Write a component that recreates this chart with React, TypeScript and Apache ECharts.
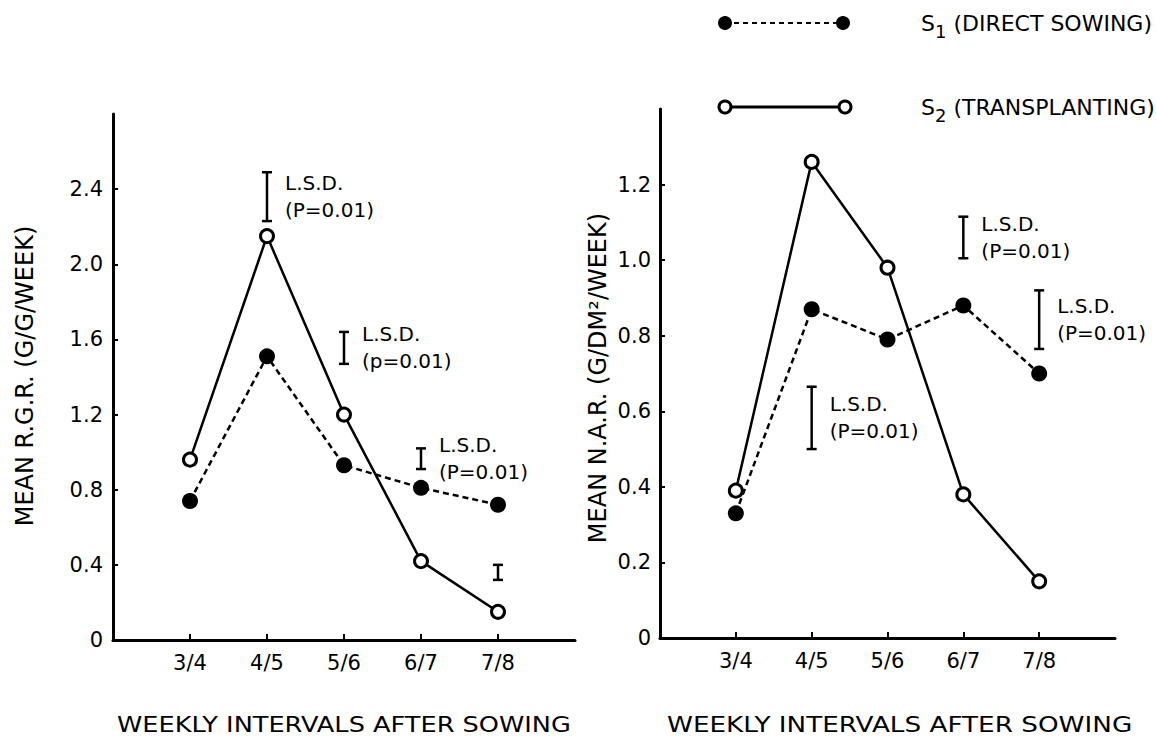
import React, { useEffect, useRef } from "react";
import * as echarts from "echarts";

const FONT = "DejaVu Sans";

// categories (padded with empty slots at both ends of the axis)
const intervals = ["3/4", "4/5", "5/6", "6/7", "7/8"];
const xCategories = ["", ...intervals, ""];

// Mean R.G.R. (g/g/week)
const rgrDirect = [0.74, 1.51, 0.93, 0.81, 0.72];
const rgrTransplant = [0.96, 2.15, 1.2, 0.42, 0.15];

// Mean N.A.R. (g/dm2/week)
const narDirect = [0.33, 0.87, 0.79, 0.88, 0.7];
const narTransplant = [0.39, 1.26, 0.98, 0.38, 0.15];

// L.S.D. bars (P=0.01)
const rgrLsdAt = ["4/5", "5/6", "6/7", "7/8"];
const rgrLsdLow = [2.23, 1.47, 0.91, 0.32];
const rgrLsdHigh = [2.49, 1.64, 1.02, 0.4];
const rgrLsdLabels = ["L.S.D.\n(P=0.01)", "L.S.D.\n(p=0.01)", "L.S.D.\n(P=0.01)", ""];

const narLsdAt = ["4/5", "6/7", "7/8"];
const narLsdLow = [0.5, 1.005, 0.765];
const narLsdHigh = [0.665, 1.115, 0.92];
const narLsdLabels = ["L.S.D.\n(P=0.01)", "L.S.D.\n(P=0.01)", "L.S.D.\n(P=0.01)"];

// axis extents
const rgrMax = 2.8;
const rgrStep = 0.4;
const narMax = 1.4;
const narStep = 0.2;

const seriesNames = ["S1 (DIRECT SOWING)", "S2 (TRANSPLANTING)"];
const xTitle = "WEEKLY INTERVALS AFTER SOWING";
const rgrTitle = "MEAN R.G.R. (G/G/WEEK)";
const narTitle = "MEAN N.A.R. (G/DM\u00B2/WEEK)";

const pad = (arr: number[]) => [null, ...arr, null];

function lsdRender(labels: string[]) {
  return (params: any, api: any) => {
    const p1 = api.coord([api.value(0), api.value(1)]);
    const p2 = api.coord([api.value(0), api.value(2)]);
    const x = p1[0];
    const s = { stroke: "#000", lineWidth: 2.5 };
    const children: any[] = [
      { type: "line", shape: { x1: x, y1: p1[1], x2: x, y2: p2[1] }, style: s },
      { type: "line", shape: { x1: x - 5, y1: p1[1], x2: x + 5, y2: p1[1] }, style: s },
      { type: "line", shape: { x1: x - 5, y1: p2[1], x2: x + 5, y2: p2[1] }, style: s },
    ];
    const label = labels[params.dataIndex];
    if (label) {
      children.push({
        type: "text",
        x: x + 18,
        y: (p1[1] + p2[1]) / 2,
        style: {
          text: label,
          fill: "#000",
          fontSize: 20,
          fontFamily: FONT,
          align: "left",
          verticalAlign: "middle",
          lineHeight: 27,
        },
      });
    }
    return { type: "group", children };
  };
}

function valueAxis(gridIndex: number, max: number, step: number, margin: number) {
  return {
    type: "value",
    gridIndex,
    min: 0,
    max,
    interval: step,
    axisLine: { show: true, lineStyle: { color: "#000", width: 3 } },
    axisTick: { show: true, inside: true, length: 5, lineStyle: { color: "#000", width: 2 } },
    axisLabel: {
      showMaxLabel: false,
      color: "#000",
      fontSize: 21,
      fontFamily: FONT,
      margin,
      formatter: (v: number) => (v === 0 ? "0" : v.toFixed(1)),
    },
    splitLine: { show: false },
  };
}

function catAxis(gridIndex: number) {
  return {
    type: "category",
    gridIndex,
    data: xCategories,
    boundaryGap: false,
    axisLine: { show: true, lineStyle: { color: "#000", width: 3 } },
    axisTick: {
      show: true,
      inside: true,
      length: 6,
      interval: (_i: number, v: string) => v !== "",
      lineStyle: { color: "#000", width: 2 },
    },
    axisLabel: { interval: 0, color: "#000", fontSize: 21, fontFamily: FONT, margin: 12 },
    splitLine: { show: false },
  };
}

function directSeries(data: number[], idx: number) {
  return {
    name: seriesNames[0],
    type: "line",
    xAxisIndex: idx,
    yAxisIndex: idx,
    data: pad(data),
    symbol: "circle",
    symbolSize: 16,
    itemStyle: { color: "#000" },
    lineStyle: { color: "#000", width: 2.5, type: [6, 4] },
    z: 3,
  };
}

function transplantSeries(data: number[], idx: number) {
  return {
    name: seriesNames[1],
    type: "line",
    xAxisIndex: idx,
    yAxisIndex: idx,
    data: pad(data),
    symbol: "circle",
    symbolSize: 13,
    itemStyle: { color: "#fff", borderColor: "#000", borderWidth: 3 },
    lineStyle: { color: "#000", width: 2.5 },
    z: 4,
  };
}

function lsdSeries(at: string[], low: number[], high: number[], labels: string[], idx: number) {
  return {
    type: "custom",
    xAxisIndex: idx,
    yAxisIndex: idx,
    silent: true,
    clip: false,
    data: at.map((c, i) => [xCategories.indexOf(c), low[i], high[i]]),
    renderItem: lsdRender(labels),
    z: 2,
  };
}

export default function App() {
  const ref = useRef<HTMLDivElement>(null);
  useEffect(() => {
    if (!ref.current) return;
    const chart = echarts.init(ref.current, null, { renderer: "svg" });
    const textBase = { fill: "#000", fontFamily: FONT, fontSize: 21 };
    const legendRich = {
      a: { fill: "#000", fontFamily: FONT, fontSize: 22 },
      b: { fill: "#000", fontFamily: FONT, fontSize: 18, padding: [17, 0, 0, 0] },
    };
    chart.setOption({
      animation: false,
      backgroundColor: "#fff",
      grid: [
        { left: 113, top: 114, width: 462, height: 526, containLabel: false, outerBoundsMode: "none" },
        { left: 660, top: 109, width: 455, height: 529, containLabel: false, outerBoundsMode: "none" },
      ],
      xAxis: [catAxis(0), catAxis(1)],
      yAxis: [valueAxis(0, rgrMax, rgrStep, 10), valueAxis(1, narMax, narStep, 9)],
      series: [
        directSeries(rgrDirect, 0),
        transplantSeries(rgrTransplant, 0),
        lsdSeries(rgrLsdAt, rgrLsdLow, rgrLsdHigh, rgrLsdLabels, 0),
        directSeries(narDirect, 1),
        transplantSeries(narTransplant, 1),
        lsdSeries(narLsdAt, narLsdLow, narLsdHigh, narLsdLabels, 1),
      ],
      graphic: [
        // legend
        { type: "line", shape: { x1: 725, y1: 23, x2: 843, y2: 23 }, style: { stroke: "#000", lineWidth: 2, lineDash: [5, 4] } },
        { type: "circle", shape: { cx: 725, cy: 23, r: 7 }, style: { fill: "#000" } },
        { type: "circle", shape: { cx: 843, cy: 23, r: 7 }, style: { fill: "#000" } },
        {
          type: "text",
          x: 921,
          y: 23,
          style: {
            ...textBase,
            text: "{a|S}{b|1}{a| (DIRECT SOWING)}",
            align: "left",
            verticalAlign: "middle",
            rich: legendRich,
          },
        },
        { type: "line", shape: { x1: 725, y1: 107, x2: 845, y2: 107 }, style: { stroke: "#000", lineWidth: 3 } },
        { type: "circle", shape: { cx: 725, cy: 107, r: 6 }, style: { fill: "#fff", stroke: "#000", lineWidth: 3 } },
        { type: "circle", shape: { cx: 845, cy: 107, r: 6 }, style: { fill: "#fff", stroke: "#000", lineWidth: 3 } },
        {
          type: "text",
          x: 921,
          y: 107,
          style: {
            ...textBase,
            text: "{a|S}{b|2}{a| (TRANSPLANTING)}",
            align: "left",
            verticalAlign: "middle",
            rich: legendRich,
          },
        },
        // axis titles
        { type: "text", x: 117, y: 725, scaleX: 1.22, style: { ...textBase, text: xTitle, align: "left", verticalAlign: "middle" } },
        { type: "text", x: 667, y: 725, scaleX: 1.25, style: { ...textBase, text: xTitle, align: "left", verticalAlign: "middle" } },
        { type: "text", x: 25, y: 376, rotation: Math.PI / 2, style: { ...textBase, fontSize: 24, text: rgrTitle, align: "center", verticalAlign: "middle" } },
        { type: "text", x: 598, y: 378, rotation: Math.PI / 2, style: { ...textBase, fontSize: 24, text: narTitle, align: "center", verticalAlign: "middle" } },
      ],
    });
    return () => chart.dispose();
  }, []);
  return (
    <div
      ref={ref}
      style={{ position: "fixed", left: 0, top: 0, width: 1156, height: 740, background: "#fff" }}
    />
  );
}
